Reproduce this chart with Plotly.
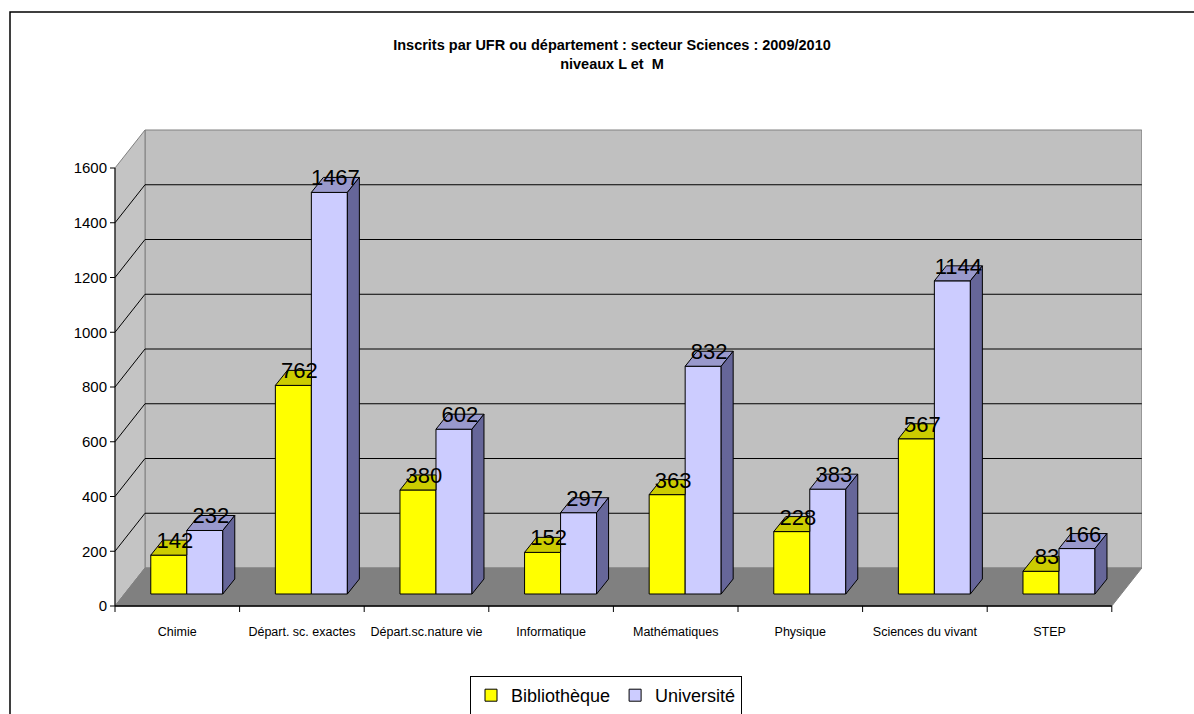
import plotly.graph_objects as go

# ---------------- data ----------------
categories = ["Chimie", "Départ. sc. exactes", "Départ.sc.nature vie", "Informatique",
              "Mathématiques", "Physique", "Sciences du vivant", "STEP"]
bibliotheque = [142, 762, 380, 152, 363, 228, 567, 83]
universite = [232, 1467, 602, 297, 832, 383, 1144, 166]
series_names = ["Bibliothèque", "Université"]
y_ticks = [0, 200, 400, 600, 800, 1000, 1200, 1400, 1600]
title_lines = ["Inscrits par UFR ou département : secteur Sciences : 2009/2010", "niveaux L et  M"]

# ---------------- geometry helpers (pixel -> data units) ----------------
PX_X = 124.6      # pixels per category on the front plane
PX_Y = 0.27375    # pixels per value unit


def ux(px):
    return px / PX_X


def uy(px):
    return px / PX_Y


N = len(categories)
YMAX = y_ticks[-1]
WALL_DX, WALL_DY = ux(30), uy(38)
F = 12 / 38
BAR_DX0, BAR_DY0 = F * WALL_DX, F * WALL_DY
BW = ux(36)
BDX, BDY = ux(12), uy(15)

ML, MR, MT, MB = 108, 52, 128, 101
W, H = 1194, 714
PW, PH = W - ML - MR, H - MT - MB
XR = [-ux(115 - ML), -ux(115 - ML) + ux(PW)]
YR = [-uy((H - MB) - 606), -uy((H - MB) - 606) + uy(PH)]

FONT = "Liberation Sans, Arial, sans-serif"

YEL, YEL_TOP = "#FFFF00", "#CCCC00"
LAV, LAV_TOP, LAV_SIDE = "#CCCCFF", "#9999CC", "#666699"

centers = [i + 0.5 + BAR_DX0 for i in range(N)]

fig = go.Figure()

# front faces as real bars
fig.add_trace(go.Bar(x=centers, y=bibliotheque, base=BAR_DY0, width=BW, offset=-BW,
                     name=series_names[0], marker=dict(color=YEL, line=dict(color="black", width=1)),
                     hoverinfo="skip"))
fig.add_trace(go.Bar(x=centers, y=universite, base=BAR_DY0, width=BW, offset=0,
                     name=series_names[1], marker=dict(color=LAV, line=dict(color="black", width=1)),
                     hoverinfo="skip"))

# 3D faces computed from the values
yt_x, yt_y = [], []
for c, v in zip(centers, bibliotheque):
    x0, t = c - BW, BAR_DY0 + v
    yt_x += [x0, c, c, x0 + BDX, x0, None]
    yt_y += [t, t, t + BDY, t + BDY, t, None]
lt_x, lt_y, ls_x, ls_y = [], [], [], []
for c, v in zip(centers, universite):
    x2, t = c + BW, BAR_DY0 + v
    lt_x += [c, x2, x2 + BDX, c + BDX, c, None]
    lt_y += [t, t, t + BDY, t + BDY, t, None]
    ls_x += [x2, x2 + BDX, x2 + BDX, x2, x2, None]
    ls_y += [BAR_DY0, BAR_DY0 + BDY, t + BDY, t, BAR_DY0, None]

for xs, ys, col in [(yt_x, yt_y, YEL_TOP), (lt_x, lt_y, LAV_TOP), (ls_x, ls_y, LAV_SIDE)]:
    fig.add_trace(go.Scatter(x=xs, y=ys, mode="lines", fill="toself", fillcolor=col,
                             line=dict(color="black", width=1), showlegend=False,
                             hoverinfo="skip"))

# value labels
for vals, sign in [(bibliotheque, -1), (universite, 1)]:
    fig.add_trace(go.Scatter(
        x=[c + sign * BW / 2 + BDX / 2 for c in centers],
        y=[BAR_DY0 + v + BDY / 2 + uy(5) for v in vals],
        text=[str(v) for v in vals], mode="text", textposition="middle center",
        textfont=dict(family=FONT, size=22, color="black"),
        showlegend=False, hoverinfo="skip", cliponaxis=False))

# ---------------- walls, floor, gridlines, axes ----------------
shapes = []
shapes.append(dict(type="rect", xref="x", yref="y", x0=WALL_DX, x1=N + WALL_DX,
                   y0=WALL_DY, y1=YMAX + WALL_DY, fillcolor="#C0C0C0",
                   line=dict(color="#808080", width=1), layer="below"))
shapes.append(dict(type="path", xref="x", yref="y",
                   path=f"M 0,0 L {WALL_DX},{WALL_DY} L {WALL_DX},{YMAX + WALL_DY} L 0,{YMAX} Z",
                   fillcolor="#C4C4C4", line=dict(color="#808080", width=1), layer="below"))
shapes.append(dict(type="path", xref="x", yref="y",
                   path=f"M 0,0 L {N},0 L {N + WALL_DX},{WALL_DY} L {WALL_DX},{WALL_DY} Z",
                   fillcolor="#808080", line=dict(color="#808080", width=1), layer="below"))
for t in y_ticks[1:-1]:
    shapes.append(dict(type="line", xref="x", yref="y", x0=WALL_DX, x1=N + WALL_DX,
                       y0=t + WALL_DY, y1=t + WALL_DY, line=dict(color="black", width=1),
                       layer="below"))
    shapes.append(dict(type="line", xref="x", yref="y", x0=0, x1=WALL_DX,
                       y0=t, y1=t + WALL_DY, line=dict(color="black", width=1), layer="below"))
# axes lines and ticks
shapes.append(dict(type="line", xref="x", yref="y", x0=0, x1=0, y0=0, y1=YMAX,
                   line=dict(color="black", width=1)))
shapes.append(dict(type="line", xref="x", yref="y", x0=0, x1=N, y0=0, y1=0,
                   line=dict(color="black", width=1.5)))
for t in y_ticks:
    shapes.append(dict(type="line", xref="x", yref="y", x0=-ux(5), x1=0, y0=t, y1=t,
                       line=dict(color="black", width=1)))
for i in range(N + 1):
    shapes.append(dict(type="line", xref="x", yref="y", x0=i, x1=i, y0=0, y1=-uy(6),
                       line=dict(color="black", width=1)))
# outer chart border
shapes.append(dict(type="rect", xref="paper", yref="paper",
                   x0=(10 - ML) / PW, x1=(1230 - ML) / PW,
                   y0=-(760 - (H - MB)) / PH, y1=((H - MB) - 12) / PH,
                   line=dict(color="black", width=1.5), fillcolor="rgba(0,0,0,0)"))

fig.update_layout(
    width=W, height=H, autosize=False,
    margin=dict(l=ML, r=MR, t=MT, b=MB, pad=0, autoexpand=False),
    paper_bgcolor="white", plot_bgcolor="white",
    barmode="overlay",
    shapes=shapes,
    title=dict(text="<b>" + title_lines[0] + "</b><br><b>" + title_lines[1] + "</b>",
               x=612 / W, xanchor="center", xref="container",
               y=1 - 50 / H, yanchor="top", yref="container",
               font=dict(family=FONT, size=14.5, color="black")),
    xaxis=dict(range=XR, showgrid=False, zeroline=False, showline=False,
               tickmode="array", tickvals=[i + 0.5 for i in range(N)], ticktext=categories,
               ticks="", ticklabelstandoff=9, tickangle=0,
               tickfont=dict(family=FONT, size=12.5, color="black"), fixedrange=True),
    yaxis=dict(range=YR, showgrid=False, zeroline=False, showline=False,
               tickmode="array", tickvals=y_ticks, ticks="",
               tickfont=dict(family=FONT, size=15, color="black"), fixedrange=True),
    legend=dict(orientation="h", x=(606 - ML) / PW, xanchor="center",
                y=-(676 - (H - MB)) / PH, yanchor="top",
                bordercolor="black", borderwidth=1, bgcolor="white",
                font=dict(family=FONT, size=18, color="black"),
                itemwidth=30, tracegroupgap=0),
    showlegend=True,
)

fig.write_html("out.html", config={"displayModeBar": False},
               post_script="document.body.style.margin='0';document.body.style.overflow='hidden';")
